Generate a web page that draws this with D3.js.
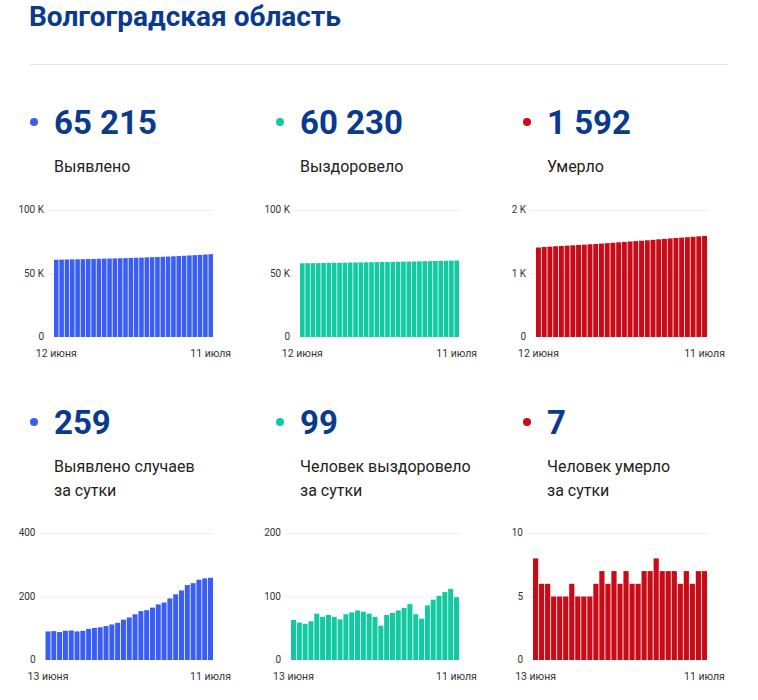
<!DOCTYPE html>
<html><head><meta charset="utf-8">
<script src="https://cdn.jsdelivr.net/npm/d3@7/dist/d3.min.js"></script>
<style>
html,body{margin:0;padding:0;background:#fff;}
svg{display:block;font-family:Roboto,"Noto Sans",sans-serif;}
</style></head>
<body>
<svg id="c" width="758" height="700"></svg>
<script>
// ---- data ----
const title = "Волгоградская область";
const totalLabels = ["Выявлено", "Выздоровело", "Умерло"];
const totalValues = ["65 215", "60 230", "1 592"];
const dailyLabels = [["Выявлено случаев", "за сутки"], ["Человек выздоровело", "за сутки"], ["Человек умерло", "за сутки"]];
const dailyValues = ["259", "99", "7"];
const colors = ["#3a5ef5", "#12c9a1", "#c90a17"];

const totalDates = ["12 июня", "11 июля"];
const dailyDates = ["13 июня", "11 июля"];

const casesTotal = [60837,60927,61018,61106,61198,61291,61381,61473,61571,61672,61775,61882,61994,62111,62238,62372,62516,62670,62827,62992,63167,63348,63542,63749,63968,64204,64446,64699,64956,65215];
const recoveredTotal = [58020,58083,58142,58199,58260,58333,58401,58472,58540,58604,58676,58751,58829,58905,58978,59046,59100,59171,59245,59323,59405,59493,59565,59630,59716,59811,59912,60019,60131,60230];
const deathsTotal = [1409,1417,1423,1429,1434,1439,1444,1450,1455,1460,1465,1471,1478,1484,1491,1497,1504,1510,1516,1523,1530,1538,1545,1552,1559,1565,1572,1578,1585,1592];

const casesDaily = [90,91,88,92,93,90,92,98,101,103,107,112,117,127,134,144,154,157,165,175,181,194,207,219,236,242,253,257,259];
const recoveredDaily = [63,59,57,61,73,68,71,68,64,72,75,78,76,73,68,54,71,74,78,82,88,72,65,86,95,101,107,112,99];
const deathsDaily = [8,6,6,5,5,5,6,5,5,5,6,7,6,7,6,7,6,6,7,7,8,7,7,7,6,7,6,7,7];

const tickValsTop = [[0,50000,100000],[0,50000,100000],[0,1000,2000]];
const tickLabelsTop = [["0","50 K","100 K"],["0","50 K","100 K"],["0","1 K","2 K"]];
const tickValsBottom = [[0,200,400],[0,100,200],[0,5,10]];
const tickLabelsBottom = [["0","200","400"],["0","100","200"],["0","5","10"]];

// ---- layout ----
const svg = d3.select("#c");
const textBlue = "#0a3a8c";
const colX = [30, 276, 523];

svg.append("text").attr("x", 29).attr("y", 26)
  .attr("font-size", 28).attr("font-weight", 700).attr("fill", textBlue).text(title);
svg.append("line").attr("x1", 30).attr("x2", 728).attr("y1", 64.5).attr("y2", 64.5)
  .attr("stroke", "#e3e3e3").attr("stroke-width", 1);

function header(i, value, labelLines, numY, dotY, labY) {
  const x = colX[i];
  svg.append("circle").attr("cx", x + 4).attr("cy", dotY).attr("r", 4).attr("fill", colors[i]);
  svg.append("text").attr("x", x + 24).attr("y", numY).attr("font-size", 33)
    .attr("font-weight", 700).attr("fill", textBlue).text(value);
  labelLines.forEach((l, k) => {
    svg.append("text").attr("x", x + 24).attr("y", labY + k * 24).attr("font-size", 16)
      .attr("fill", "#222").text(l);
  });
}

function chart(data, color, L, R, yTop, y0, tv, tl, dates) {
  const x = d3.scaleBand().domain(d3.range(data.length)).range([L, R]).paddingInner(0.14).paddingOuter(0);
  const y = d3.scaleLinear().domain([0, tv[tv.length - 1]]).range([y0, yTop]);
  const g = svg.append("g");
  tv.forEach((v, k) => {
    if (k > 0) g.append("line").attr("x1", L - 6).attr("x2", R).attr("y1", y(v) + 0.5).attr("y2", y(v) + 0.5)
      .attr("stroke", "#ededed").attr("stroke-width", 1);
    g.append("text").attr("x", L - 10).attr("y", y(v)).attr("dy", "0.34em")
      .attr("text-anchor", "end").attr("font-size", 10).attr("fill", "#333").text(tl[k]);
  });
  g.selectAll("rect").data(data).join("rect")
    .attr("x", (d, i) => x(i)).attr("width", x.bandwidth())
    .attr("y", d => y(d)).attr("height", d => y0 - y(d)).attr("fill", color);
  const first = x(0) + x.bandwidth() / 2, last = x(data.length - 1) + x.bandwidth() / 2;
  g.append("text").attr("x", first).attr("y", y0 + 19.5).attr("text-anchor", "middle")
    .attr("font-size", 10.5).attr("fill", "#333").text(dates[0]);
  g.append("text").attr("x", last).attr("y", y0 + 19.5).attr("text-anchor", "middle")
    .attr("font-size", 10.5).attr("fill", "#333").text(dates[1]);
}

const topData = [casesTotal, recoveredTotal, deathsTotal];
const botData = [casesDaily, recoveredDaily, deathsDaily];
const topL = [54, 300, 536], botL = [45.5, 291, 533];
const R = [213, 459, 707];

for (let i = 0; i < 3; i++) {
  header(i, totalValues[i], [totalLabels[i]], 134, 122, 172);
  header(i, dailyValues[i], dailyLabels[i], 434, 422, 472);
  chart(topData[i], colors[i], topL[i], R[i], 210, 337, tickValsTop[i], tickLabelsTop[i], totalDates);
  chart(botData[i], colors[i], botL[i], R[i], 533, 660, tickValsBottom[i], tickLabelsBottom[i], dailyDates);
}
</script>
</body></html>
